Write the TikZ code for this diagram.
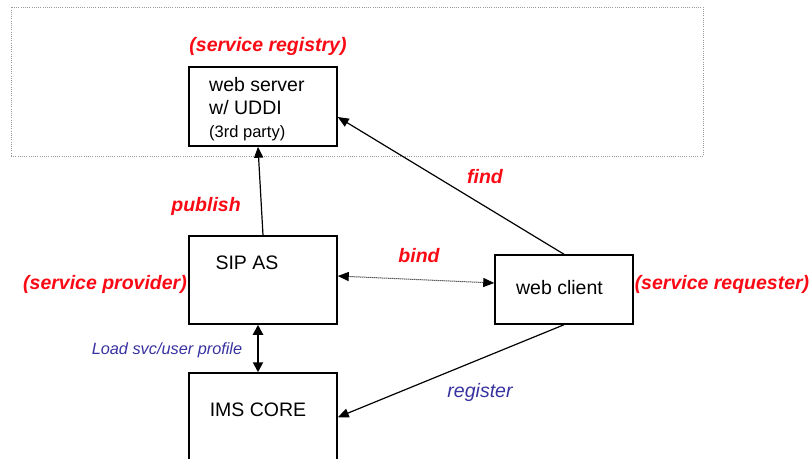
\documentclass[tikz,border=0pt]{standalone}
\usepackage{fontspec}
\setmainfont{Liberation Sans}
\usetikzlibrary{arrows.meta}
\definecolor{tagred}{RGB}{250,10,20}
\definecolor{noteblue}{RGB}{55,50,160}
\tikzset{
  box/.style={draw=black, line width=1.5pt, fill=white, inner sep=0pt},
  boxtext/.style={font=\fontsize{19.5}{23}\selectfont, inner sep=0pt, align=left},
  role/.style={text=tagred, font=\fontsize{19.5}{23}\selectfont\bfseries\itshape, inner sep=0pt},
  note/.style={text=noteblue, font=\fontsize{19.5}{23}\selectfont\itshape, inner sep=0pt},
  smallnote/.style={text=noteblue, font=\fontsize{16.3}{19}\selectfont\itshape, inner sep=0pt},
  link/.style={draw=black, line width=1.2pt, -{Triangle[length=11pt,width=9pt]}},
  region/.style={draw=gray!80, line width=0.8pt, dash pattern=on 1pt off 1.2pt}
}
\begin{document}
\begin{tikzpicture}[x=1pt, y=-1pt]
\useasboundingbox (0,0) rectangle (811,458);
\clip (0,0) rectangle (811,458);

% registry zone
\node[region, minimum width=692pt, minimum height=149pt, inner sep=0pt] (zone) at (357,81.5) {};

% boxes
\node[box, minimum width=148pt, minimum height=79pt] (ws) at (263,106.5) {};
\node[boxtext, anchor=west] (wstext) at (209,109) {web server\\w/ UDDI\\{\fontsize{16.5}{19}\selectfont (3rd party)}};

\node[box, minimum width=148pt, minimum height=88pt] (sip) at (263,280) {};
\node[boxtext] (siptext) at (247,263) {SIP AS};

\node[box, minimum width=148pt, minimum height=120pt] (ims) at (263,433) {};
\node[boxtext] (imstext) at (258,410) {IMS CORE};

\node[box, minimum width=138pt, minimum height=69pt] (wc) at (564,289.5) {};
\node[boxtext] (wctext) at (559.5,288) {web client};

% role tags
\node[role] (tagreg) at (268,46) {(service registry)};
\node[role] (tagprov) at (105,284) {(service provider)};
\node[role] (tagreq) at (722,284) {(service requester)};

% connectors
\draw[link] (sip.north) -- ([xshift=-5pt]ws.south);
\draw[link] (wc.north) -- ([yshift=-10.5pt]ws.east);
\draw[link, line width=1pt, densely dotted, {Triangle[length=11pt,width=9pt]}-{Triangle[length=11pt,width=9pt]}]
  ([yshift=4pt]sip.east) -- ([yshift=6.5pt]wc.west);
\draw[link, line width=2pt, {Triangle[length=10pt,width=10pt]}-{Triangle[length=10pt,width=10pt]}]
  ([xshift=-5pt]sip.south) -- ([xshift=-5pt]ims.north);
\draw[link] (wc.south) -- ([yshift=-45pt]ims.north east);

% connector labels
\node[role] (lpub) at (206,206) {publish};
\node[role] (lfind) at (485,177) {find};
\node[role] (lbind) at (419,256) {bind};
\node[smallnote] (lload) at (167,350) {Load svc/user profile};
\node[note] (lreg) at (480,392) {register};
\end{tikzpicture}
\end{document}
